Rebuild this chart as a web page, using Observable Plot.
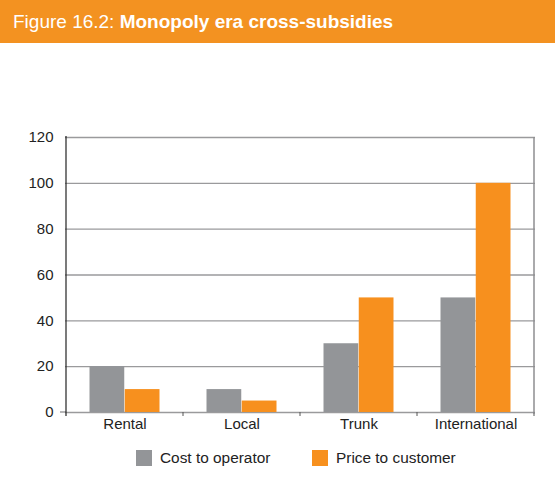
<!DOCTYPE html>
<html><head><meta charset="utf-8">
<script src="https://cdn.jsdelivr.net/npm/d3@7"></script>
<script src="https://cdn.jsdelivr.net/npm/@observablehq/plot@0.6"></script>
<style>
body{margin:0;background:#fff;font-family:"Liberation Sans",Arial,sans-serif;}
#title{height:43px;background:#F39221;color:#fff;font-size:19px;line-height:44px;padding-left:13px;box-sizing:border-box;white-space:nowrap;}
#chart svg{display:block;}
#legend{position:relative;height:48px;font-size:15.4px;color:#222;}
.item{position:absolute;top:9px;display:flex;align-items:center;}
.sw{width:16px;height:16px;margin-right:8px;}
</style></head><body>
<div id="title">Figure 16.2: <b>Monopoly era cross-subsidies</b></div>
<div id="chart"></div>
<div id="legend"></div>
<script>
const categories = ["Rental", "Local", "Trunk", "International"];
const seriesNames = ["Cost to operator", "Price to customer"];
const costToOperator = [20, 10, 30, 50];
const priceToCustomer = [10, 5, 50, 100];
const yTicks = [0, 20, 40, 60, 80, 100, 120];
const colors = ["#939598", "#F7901E"];

const W = 555, H = 397, ML = 65, MR = 20, MT = 94, MB = 28;
const B = (W - ML - MR) / categories.length;

const costData = categories.map((c, i) => ({category: c, value: costToOperator[i]}));
const priceData = categories.map((c, i) => ({category: c, value: priceToCustomer[i]}));

const frameMark = (index, scales) => {
  const x = scales.x, y = scales.y;
  const bw = typeof x.bandwidth === "function" ? x.bandwidth() : x.bandwidth;
  const g = d3.create("svg:g");
  const y0 = y(0), yTop = y(d3.max(yTicks));
  const xl = x(categories[0]);
  const xr = x(categories[categories.length - 1]) + bw;
  g.append("line").attr("x1", xl - 6).attr("x2", xl).attr("y1", y0).attr("y2", y0)
    .attr("stroke", "#8e8e90").attr("stroke-width", 1.3);
  categories.forEach(c => {
    const xe = x(c) + bw;
    g.append("line").attr("x1", xe).attr("x2", xe).attr("y1", y0).attr("y2", y0 + 4)
      .attr("stroke", "#555").attr("stroke-width", 1);
  });
  g.append("line").attr("x1", xr).attr("x2", xr).attr("y1", yTop).attr("y2", y0 + 2)
    .attr("stroke", "#8e8e90").attr("stroke-width", 1.5);
  g.append("line").attr("x1", xl).attr("x2", xl).attr("y1", yTop - 1).attr("y2", y0 + 4)
    .attr("stroke", "#222").attr("stroke-width", 1.2);
  return g.node();
};

const chart = Plot.plot({
  width: W, height: H,
  marginLeft: ML, marginRight: MR, marginTop: MT, marginBottom: MB,
  style: {fontFamily: "'Liberation Sans', Arial, sans-serif", fontSize: "15px", color: "#222", background: "white"},
  x: {domain: categories, padding: 0, label: null},
  y: {domain: [0, 120], label: null},
  marks: [
    Plot.ruleY(yTicks, {stroke: "#9a9a9c", strokeWidth: 1.3}),
    Plot.barY(costData, {x: "category", y: "value", fill: colors[0], insetLeft: 0.2 * B, insetRight: 0.5 * B}),
    Plot.barY(priceData, {x: "category", y: "value", fill: colors[1], insetLeft: 0.5 * B, insetRight: 0.2 * B}),
    Plot.axisY({ticks: yTicks, tickSize: 0, tickPadding: 12, label: null, fontSize: 15}),
    Plot.axisX({tickSize: 0, tickPadding: 6, label: null, fontSize: 15}),
    frameMark
  ]
});
document.getElementById("chart").appendChild(chart);

const legend = document.getElementById("legend");
const legendX = [136, 312];
seriesNames.forEach((s, i) => {
  const it = document.createElement("div");
  it.className = "item";
  it.style.left = legendX[i] + "px";
  it.innerHTML = `<span class="sw" style="background:${colors[i]}"></span><span>${s}</span>`;
  legend.appendChild(it);
});
</script>
</body></html>
